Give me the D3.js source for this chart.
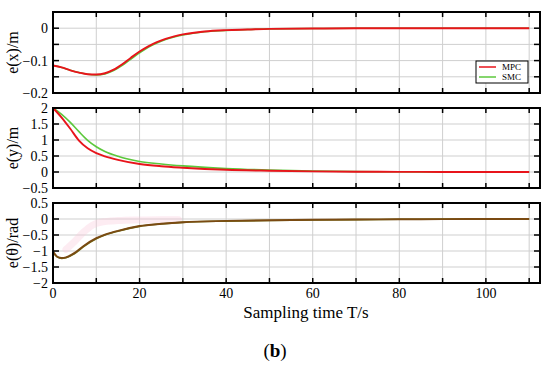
<!DOCTYPE html>
<html>
<head>
<meta charset="utf-8">
<script src="https://cdn.jsdelivr.net/npm/d3@7"></script>
<style>
  body { margin: 0; background: #fff; }
  svg text { font-family: "Liberation Serif", "DejaVu Serif", serif; fill: #000; }
  .grid line { stroke: #cfcfcf; stroke-width: 1; }
</style>
</head>
<body>
<div id="chart"></div>
<script>
// sampling times and errors
const tX = [0, 2, 4, 6, 8, 10, 12, 14, 16, 18, 20, 22, 24, 26, 28, 30, 35, 40, 45, 50, 60, 70, 80, 90, 100, 110];
const exMPC = [-0.115, -0.121, -0.13, -0.137, -0.142, -0.143, -0.139, -0.128, -0.111, -0.091, -0.072, -0.056, -0.043, -0.033, -0.025, -0.019, -0.01, -0.006, -0.004, -0.002, -0.001, 0, 0, 0, 0, 0];
const exSMC = [-0.115, -0.121, -0.13, -0.137, -0.142, -0.144, -0.141, -0.131, -0.115, -0.095, -0.076, -0.059, -0.046, -0.035, -0.027, -0.021, -0.011, -0.007, -0.004, -0.002, -0.001, 0, 0, 0, 0, 0];

const tY = [0, 2, 4, 6, 8, 10, 12, 15, 20, 25, 30, 40, 50, 60, 70, 80, 90, 100, 110];
const eyMPC = [2, 1.7, 1.35, 0.98, 0.74, 0.59, 0.49, 0.38, 0.25, 0.18, 0.135, 0.07, 0.04, 0.02, 0.01, 0.004, 0.002, 0, 0];
const eySMC = [2, 1.8, 1.55, 1.26, 0.99, 0.79, 0.64, 0.49, 0.33, 0.25, 0.19, 0.11, 0.06, 0.03, 0.015, 0.006, 0.003, 0, 0];

const tTh = [0, 1, 2, 3, 5, 7, 10, 12, 15, 20, 25, 30, 40, 50, 60, 70, 80, 90, 100, 110];
const ethMPC = [-1.02, -1.18, -1.22, -1.2, -1.06, -0.85, -0.6, -0.49, -0.37, -0.22, -0.15, -0.1, -0.06, -0.04, -0.025, -0.015, -0.01, -0.005, 0, 0];
const ethSMC = [-1.04, -1.19, -1.23, -1.21, -1.08, -0.87, -0.62, -0.5, -0.38, -0.23, -0.155, -0.105, -0.065, -0.045, -0.03, -0.02, -0.01, -0.005, 0, 0];

// faint pink trace seen behind the heading curves
const tPink = [3, 5, 7, 9, 11, 15, 20, 25, 29];
const ethPink = [-0.95, -0.7, -0.42, -0.2, -0.1, -0.05, -0.03, -0.02, -0.02];

const xTicks = [0, 10, 20, 30, 40, 50, 60, 70, 80, 90, 100, 110];
const xTickLabels = [0, 20, 40, 60, 80, 100];

const yTicksX = [0.05, 0, -0.05, -0.1, -0.15, -0.2];
const yLabelsX = [0, -0.1, -0.2];
const yTicksY = [2, 1.5, 1, 0.5, 0, -0.5];
const yTicksTh = [0.5, 0, -0.5, -1, -1.5, -2];

const seriesNames = ["MPC", "SMC"];

var width = 550, height = 369;
var left = 53, right = 540;

var svg = d3.select('#chart').append('svg')
    .attr('width', width)
    .attr('height', height);

var x = d3.scaleLinear().domain([0, 112.5]).range([left, right]);

var panels = [
    { top: 12, bottom: 93, domain: [-0.2, 0.05], ticks: yTicksX, labels: yLabelsX,
      title: 'e(x)/m', t: tX, mpc: exMPC, smc: exSMC, colors: ['#e8141b', '#5cc83c'] },
    { top: 108, bottom: 188, domain: [-0.5, 2], ticks: yTicksY, labels: yTicksY,
      title: 'e(y)/m', t: tY, mpc: eyMPC, smc: eySMC, colors: ['#e8141b', '#5cc83c'] },
    { top: 203, bottom: 283, domain: [-2, 0.5], ticks: yTicksTh, labels: yTicksTh,
      title: 'e(θ)/rad', t: tTh, mpc: ethMPC, smc: ethSMC, colors: ['#7a4a12', '#6f7a1c'] }
];

panels.forEach(function(p, i) {
    var y = d3.scaleLinear().domain(p.domain).range([p.bottom, p.top]);
    var g = svg.append('g');

    var line = d3.line()
        .x(d => x(d[0]))
        .y(d => y(d[1]))
        .curve(d3.curveMonotoneX);

    // grid
    var grid = g.append('g').attr('class', 'grid');
    grid.selectAll('.vx').data(xTicks.slice(1)).enter().append('line')
        .attr('x1', d => x(d)).attr('x2', d => x(d))
        .attr('y1', p.top).attr('y2', p.bottom);
    grid.selectAll('.hy').data(p.ticks.filter(d => d !== p.domain[0] && d !== p.domain[1])).enter().append('line')
        .attr('x1', left).attr('x2', right)
        .attr('y1', d => y(d)).attr('y2', d => y(d));

    if (i === 2) {
        g.append('path')
            .datum(tPink.map((t, k) => [t, ethPink[k]]))
            .attr('fill', 'none')
            .attr('stroke', '#f9c9da')
            .attr('stroke-opacity', 0.35)
            .attr('stroke-width', 7)
            .attr('stroke-linecap', 'round')
            .attr('d', line);
    }

    g.append('path')
        .datum(p.t.map((t, k) => [t, p.smc[k]]))
        .attr('fill', 'none')
        .attr('stroke', p.colors[1])
        .attr('stroke-width', 1.6)
        .attr('d', line);

    g.append('path')
        .datum(p.t.map((t, k) => [t, p.mpc[k]]))
        .attr('fill', 'none')
        .attr('stroke', p.colors[0])
        .attr('stroke-width', 1.9)
        .attr('d', line);

    // inward ticks
    var tk = g.append('g').attr('stroke', '#000').attr('stroke-width', 1.5);
    xTicks.forEach(function(d) {
        tk.append('line').attr('x1', x(d)).attr('x2', x(d)).attr('y1', p.top).attr('y2', p.top + 5);
        tk.append('line').attr('x1', x(d)).attr('x2', x(d)).attr('y1', p.bottom).attr('y2', p.bottom - 5);
    });
    p.ticks.forEach(function(d) {
        tk.append('line').attr('x1', left).attr('x2', left + 6).attr('y1', y(d)).attr('y2', y(d));
        tk.append('line').attr('x1', right).attr('x2', right - 6).attr('y1', y(d)).attr('y2', y(d));
    });

    // border
    g.append('rect')
        .attr('x', left).attr('y', p.top)
        .attr('width', right - left).attr('height', p.bottom - p.top)
        .attr('fill', 'none').attr('stroke', '#000').attr('stroke-width', 2);

    // y labels
    g.selectAll('.yl').data(p.labels).enter().append('text')
        .attr('x', left - 5)
        .attr('y', d => y(d) + 5)
        .attr('text-anchor', 'end')
        .style('font-size', '14px')
        .text(d => String(d).replace('-', '\u2212'));

    svg.append('text')
        .attr('transform', `translate(18, ${(p.top + p.bottom) / 2}) rotate(-90)`)
        .attr('text-anchor', 'middle')
        .style('font-size', '16px')
        .text(p.title);

    if (i === 2) {
        g.selectAll('.xl').data(xTickLabels).enter().append('text')
            .attr('x', d => x(d))
            .attr('y', p.bottom + 15)
            .attr('text-anchor', 'middle')
            .style('font-size', '14px')
            .text(d => d);
    }

    if (i === 0) {
        var lg = g.append('g');
        lg.append('rect')
            .attr('x', 476).attr('y', 61).attr('width', 52).attr('height', 22)
            .attr('fill', '#fff').attr('stroke', '#000').attr('stroke-width', 1);
        seriesNames.forEach(function(n, k) {
            lg.append('line')
                .attr('x1', 479).attr('x2', 496)
                .attr('y1', 67 + k * 10).attr('y2', 67 + k * 10)
                .attr('stroke', p.colors[k]).attr('stroke-width', 1.5);
            lg.append('text')
                .attr('x', 502).attr('y', 70 + k * 10)
                .style('font-size', '9px')
                .text(n);
        });
    }
});

svg.append('text')
    .attr('x', 306).attr('y', 318)
    .attr('text-anchor', 'middle')
    .style('font-size', '17px')
    .text('Sampling time T/s');

svg.append('text')
    .attr('x', 275).attr('y', 357)
    .attr('text-anchor', 'middle')
    .style('font-size', '19px')
    .html('(<tspan font-weight="bold">b</tspan>)');
</script>
</body>
</html>
